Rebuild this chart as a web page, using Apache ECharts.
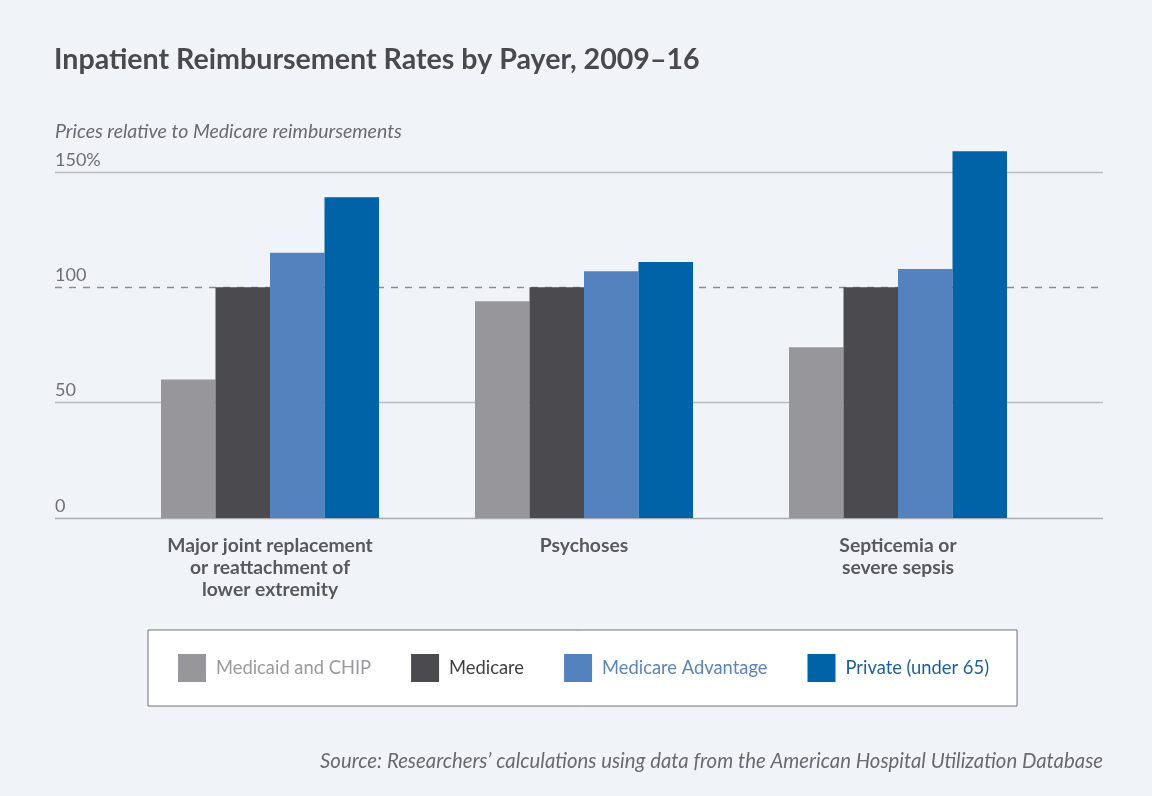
<!DOCTYPE html>
<html>
<head>
<meta charset="utf-8">
<script src="https://cdn.jsdelivr.net/npm/echarts@6/dist/echarts.min.js"></script>
<style>
html,body{margin:0;padding:0;background:#f0f4f9;}
#chart{width:1152px;height:796px;}
</style>
</head>
<body>
<div id="chart"></div>
<script>
const categories = ['Major joint replacement\nor reattachment of\nlower extremity', 'Psychoses', 'Septicemia or\nsevere sepsis'];
const seriesNames = ['Medicaid and CHIP', 'Medicare', 'Medicare Advantage', 'Private (under 65)'];
const medicaidChip = [60, 94, 74];
const medicare = [100, 100, 100];
const medicareAdvantage = [115, 107, 108];
const privateUnder65 = [139, 111, 159];
const yTicks = [0, 50, 100, 150];

const colors = ['#97979b', '#4b4b4f', '#5482bf', '#0062a7'];
const legendTextColors = ['#9a9a9e', '#3f3f43', '#5a84bb', '#1d5f99'];
const values = [medicaidChip, medicare, medicareAdvantage, privateUnder65];

const FONT = 'Lato';
const chart = echarts.init(document.getElementById('chart'));

const barSeries = seriesNames.map((n, i) => ({
  name: n,
  type: 'bar',
  xAxisIndex: 0,
  yAxisIndex: 0,
  data: values[i],
  barWidth: 54.5,
  barGap: '0%',
  clip: false,
  z: 5,
  itemStyle: { color: colors[i] },
  emphasis: { disabled: true }
}));

const gridLineSeries = {
  type: 'line',
  xAxisIndex: 1,
  yAxisIndex: 1,
  data: [],
  silent: true,
  z: 1,
  markLine: {
    silent: true,
    symbol: 'none',
    label: { show: false },
    animation: false,
    data: yTicks.map(v => ({
      yAxis: v,
      lineStyle: v === 100
        ? { color: '#8a8c90', type: [7, 7], width: 1.3 }
        : { color: v === 0 ? '#a9adb2' : '#b8bcc1', type: 'solid', width: 1.3 }
    }))
  }
};

chart.setOption({
  backgroundColor: '#f0f4f9',
  animation: false,
  textStyle: { fontFamily: FONT },
  title: [
    {
      text: 'Inpatient Reimbursement Rates by Payer, 2009\u201316',
      left: 54, top: 45, padding: 0,
      textStyle: { fontFamily: FONT, fontSize: 28.6, fontWeight: 'bold', color: '#4a4a4d' }
    },
    {
      text: 'Prices relative to Medicare reimbursements',
      left: 55, top: 122, padding: 0,
      textStyle: { fontFamily: FONT, fontSize: 19.5, fontStyle: 'italic', fontWeight: 'normal', color: '#6a6a6e' }
    },
    {
      text: 'Source: Researchers\u2019 calculations using data from the American Hospital Utilization Database',
      right: 49, top: 751, padding: 0,
      textStyle: { fontFamily: FONT, fontSize: 20.35, fontStyle: 'italic', fontWeight: 'normal', color: '#6a6a6e' }
    }
  ],
  legend: {
    data: seriesNames.map((n, i) => ({ name: n, textStyle: { color: legendTextColors[i] } })),
    left: 148, top: 630,
    orient: 'horizontal',
    icon: 'rect',
    itemWidth: 28, itemHeight: 28, itemGap: 40,
    padding: [24, 28, 24, 30],
    backgroundColor: '#ffffff',
    borderColor: '#6e7175',
    borderWidth: 1,
    selectedMode: false,
    textStyle: { fontFamily: FONT, fontSize: 18.35, padding: [0, 0, 0, 5] }
  },
  grid: [
    { left: 113, right: 97, top: 172, bottom: 278 },
    { left: 55, right: 49, top: 172, bottom: 278 }
  ],
  xAxis: [
    {
      type: 'category', gridIndex: 0, data: categories,
      axisLine: { show: false }, axisTick: { show: false },
      axisLabel: { fontFamily: FONT, fontSize: 19.3, fontWeight: 'bold', color: '#58595d', lineHeight: 22, margin: 17, interval: 0 }
    },
    { type: 'value', gridIndex: 1, min: 0, max: 1, show: false }
  ],
  yAxis: [
    { type: 'value', gridIndex: 0, min: 0, max: 150, interval: 50, show: false },
    {
      type: 'value', gridIndex: 1, min: 0, max: 150, interval: 50,
      axisLine: { show: false }, axisTick: { show: false }, splitLine: { show: false },
      axisLabel: {
        inside: true, margin: 0, verticalAlign: 'bottom', align: 'left',
        padding: [0, 0, 3, 0],
        fontFamily: FONT, fontSize: 18, color: '#707074',
        formatter: v => (v === 150 ? v + '%' : String(v))
      }
    }
  ],
  series: [gridLineSeries].concat(barSeries)
});
</script>
</body>
</html>
